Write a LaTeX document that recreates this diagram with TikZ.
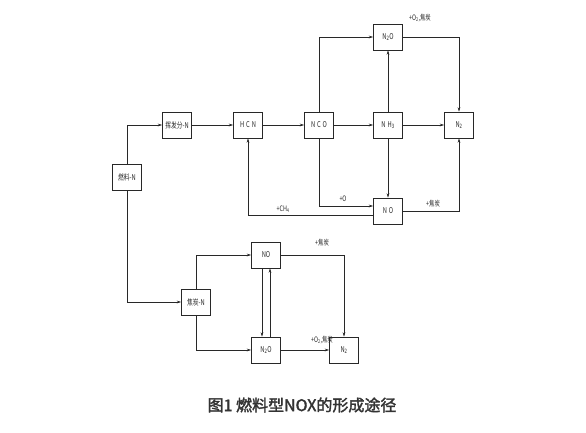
\documentclass[tikz,border=0pt]{standalone}
\usepackage{fontspec}
\setmainfont{Noto Sans CJK SC}
\newfontfamily\capfont[FakeBold=2]{Noto Sans CJK SC}
\usetikzlibrary{arrows.meta}
\definecolor{cL}{RGB}{40,40,40}
\newcommand{\cnd}[1]{\scalebox{0.72}[1]{#1}}

\begin{document}
\begin{tikzpicture}[x=1pt, y=-1pt, >={Stealth[length=4.5pt,width=2.8pt]},
                    every node/.style={font=\fontsize{8}{9}\selectfont, text=cL},
                    box/.style={draw=cL, line width=0.7pt, fill=white, minimum width=29pt, minimum height=26pt, inner sep=0.5pt},
                    lbl/.style={font=\fontsize{7.5}{8}\selectfont},
                    link/.style={draw=cL, line width=0.6pt, ->}]
    \useasboundingbox (0,0) rectangle (586,432);

    % Boxes of the volatile route
    \node[box] (fuelN) at (127,177) {\cnd{燃料-N}};
    \node[box] (volN)  at (177,125) {\cnd{挥发分-N}};
    \node[box] (hcn)   at (248,125) {\cnd{H\,\,C\,\,N}};
    \node[box] (nco)   at (319,125) {\cnd{N\,\,C\,\,O}};
    \node[box] (nh3)   at (388,125) {\cnd{N\,\,H\textsubscript{3}}};
    \node[box] (n2T)   at (459,125) {\cnd{N\textsubscript{2}}};
    \node[box] (n2oT)  at (388,37)  {\cnd{N\textsubscript{2}O}};
    \node[box] (noT)   at (388,211) {\cnd{N\,\,O}};

    % Boxes of the char route
    \node[box] (charN) at (196,302) {\cnd{焦炭-N}};
    \node[box] (noB)   at (266,255) {\cnd{NO}};
    \node[box] (n2oB)  at (266,350) {\cnd{N\textsubscript{2}O}};
    \node[box] (n2B)   at (344,350) {\cnd{N\textsubscript{2}}};

    % Labels
    \node[lbl] (lO2T)  at (420,18)  {\cnd{+O\textsubscript{2},焦炭}};
    \node[lbl] (lO)    at (343,199) {\cnd{+O}};
    \node[lbl] (lCH4)  at (283,209) {\cnd{+CH\textsubscript{4}}};
    \node[lbl] (lcT)   at (433,204) {\cnd{+焦炭}};
    \node[lbl] (lcB)   at (322,243) {\cnd{+焦炭}};
    \node[lbl] (lO2B)  at (322,340) {\cnd{+O\textsubscript{2},焦炭}};

    % Volatile route
    \draw[link] (fuelN.north) |- (volN.west);
    \draw[link] (volN) -- (hcn);
    \draw[link] (hcn) -- (nco);
    \draw[link] (nco) -- (nh3);
    \draw[link] (nh3) -- (n2T);
    \draw[link] (nh3) -- (n2oT);
    \draw[link] (nh3) -- (noT);
    \draw[link] (nco.north) |- (n2oT.west);
    \draw[link] (n2oT.east) -| (n2T.north);
    \draw[link] (nco.south) |- ([yshift=5pt]noT.west);
    \draw[link] ([yshift=-4pt]noT.west) -| (hcn.south);
    \draw[link] (noT.east) -| (n2T.south);

    % Char route
    \draw[link] (fuelN.south) |- (charN.west);
    \draw[link] (charN.north) |- (noB.west);
    \draw[link] (charN.south) |- (n2oB.west);
    \draw[link] (noB.east) -| (n2B.north);
    \draw[link] (n2oB) -- (n2B);
    \draw[link] ([xshift=-4pt]noB.south) -- ([xshift=-4pt]n2oB.north);
    \draw[link] ([xshift=4pt]n2oB.north) -- ([xshift=4pt]noB.south);

    % Caption
    \node[font=\fontsize{16}{18}\capfont, text=black!80] (cap) at (302,405) {图1 燃料型NOX的形成途径};
\end{tikzpicture}
\end{document}
